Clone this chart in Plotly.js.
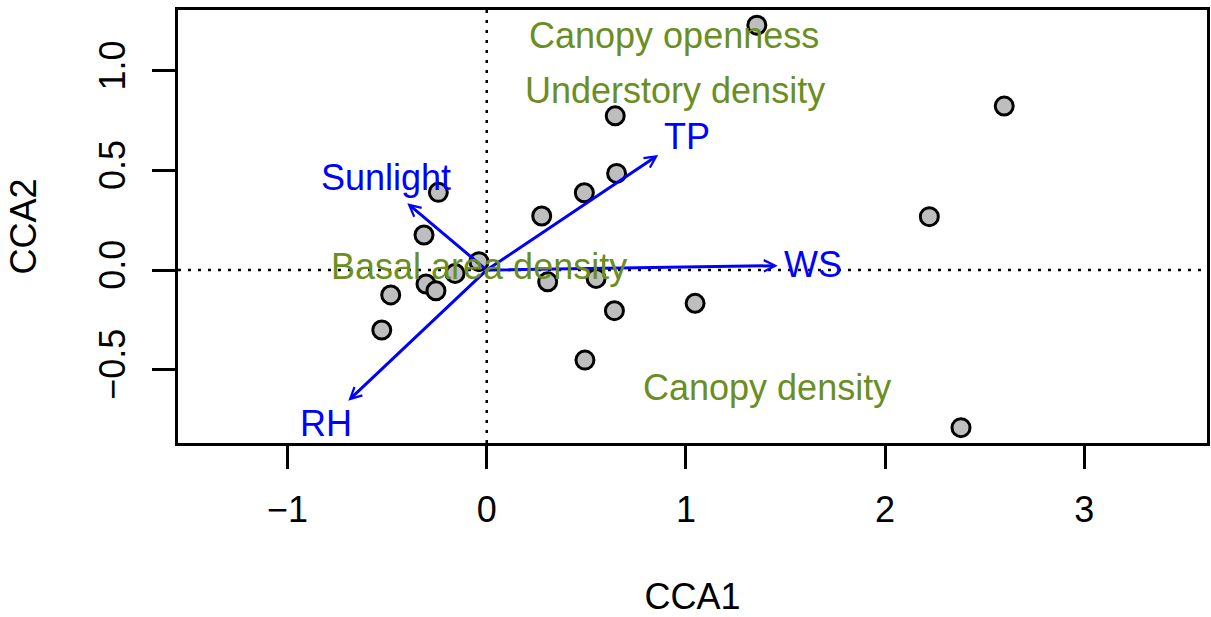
<!DOCTYPE html>
<html>
<head>
<meta charset="utf-8">
<script src="https://cdn.plot.ly/plotly-3.0.1.min.js"></script>
<style>html,body{margin:0;padding:0;background:#fff;}#chart{width:1211px;height:617px;}</style>
</head>
<body>
<div id="chart"></div>
<script>
// Site scores (CCA1, CCA2)
const siteX = [1.356, 2.598, 0.645, 0.652, 0.490, 0.276, -0.243, -0.315, -0.039, -0.159, -0.305, -0.255, -0.482, -0.527, 0.306, 0.549, 1.046, 0.641, 0.493, 2.222, 2.381];
const siteY = [1.229, 0.823, 0.774, 0.485, 0.388, 0.271, 0.390, 0.176, 0.042, -0.017, -0.070, -0.104, -0.125, -0.301, -0.059, -0.042, -0.167, -0.204, -0.452, 0.268, -0.791];

// Environmental vectors (arrow tips) and their label positions
const envNames = ['Sunlight', 'TP', 'WS', 'RH'];
const envX = [-0.399, 0.861, 1.461, -0.695];
const envY = [0.335, 0.577, 0.022, -0.656];
const envLabelX = [-0.506, 1.004, 1.640, -0.807];
const envLabelY = [0.464, 0.670, 0.029, -0.768];

// Factor (centroid) labels
const factorNames = ['Canopy openness', 'Understory density', 'Basal area density', 'Canopy density'];
const factorX = [0.939, 0.943, -0.038, 1.407];
const factorY = [1.175, 0.903, 0.020, -0.590];

// Axis ticks
const xTickVals = [-1, 0, 1, 2, 3];
const xTickText = ['\u22121', '0', '1', '2', '3'];
const yTickVals = [-0.5, 0, 0.5, 1.0];
const yTickText = ['\u22120.5', '0.0', '0.5', '1.0'];

const FONT = 'Liberation Sans, Arial, Helvetica, sans-serif';
const BLUE = '#0000FF';
const GREEN = '#6B8E23';

const traces = [{
  type: 'scatter',
  mode: 'markers',
  x: siteX,
  y: siteY,
  marker: {size: 18, color: '#BEBEBE', line: {color: '#000000', width: 3}},
  hoverinfo: 'x+y',
  showlegend: false
}];

const annotations = [];
envNames.forEach((n, i) => {
  annotations.push({
    xref: 'x', yref: 'y', axref: 'x', ayref: 'y',
    x: envX[i], y: envY[i], ax: 0, ay: 0,
    text: '', showarrow: true,
    arrowhead: 5, arrowsize: 0.75, arrowwidth: 3, arrowcolor: BLUE,
    standoff: 0, startstandoff: 0
  });
});
factorNames.forEach((n, i) => {
  annotations.push({
    xref: 'x', yref: 'y', x: factorX[i], y: factorY[i],
    text: n, showarrow: false, xanchor: 'center', yanchor: 'middle',
    font: {family: FONT, size: 36, color: GREEN}
  });
});
envNames.forEach((n, i) => {
  annotations.push({
    xref: 'x', yref: 'y', x: envLabelX[i], y: envLabelY[i],
    text: n, showarrow: false, xanchor: 'center', yanchor: 'middle',
    font: {family: FONT, size: 36, color: BLUE}
  });
});

const shapes = [
  {type: 'line', xref: 'x', yref: 'paper', x0: 0, x1: 0, y0: 0, y1: 1,
   line: {color: '#000', width: 2.5, dash: '3px,7px'}, layer: 'below'},
  {type: 'line', xref: 'paper', yref: 'y', x0: 0, x1: 1, y0: 0, y1: 0,
   line: {color: '#000', width: 2.5, dash: '3px,7px'}, layer: 'below'}
];

const layout = {
  width: 1211, height: 617,
  margin: {l: 178, r: 4, t: 10, b: 174},
  paper_bgcolor: '#ffffff', plot_bgcolor: '#ffffff',
  font: {family: FONT, size: 36, color: '#000'},
  showlegend: false,
  xaxis: {
    range: [-1.55, 3.616], autorange: false,
    tickvals: xTickVals, ticktext: xTickText,
    ticks: 'outside', ticklen: 23, tickwidth: 3, tickcolor: '#000',
    ticklabelstandoff: 10,
    showline: true, mirror: true, linewidth: 3, linecolor: '#000',
    showgrid: false, zeroline: false,
    tickfont: {family: FONT, size: 36, color: '#000'},
    title: {text: 'CCA1', font: {family: FONT, size: 36, color: '#000'}, standoff: 55}
  },
  yaxis: {
    range: [-0.868, 1.305], autorange: false,
    tickvals: yTickVals, ticktext: yTickText, tickangle: -90,
    ticks: 'outside', ticklen: 23, tickwidth: 3, tickcolor: '#000',
    ticklabelstandoff: 13,
    showline: true, mirror: true, linewidth: 3, linecolor: '#000',
    showgrid: false, zeroline: false,
    tickfont: {family: FONT, size: 36, color: '#000'},
    title: {text: 'CCA2', font: {family: FONT, size: 36, color: '#000'}, standoff: 44}
  },
  annotations: annotations,
  shapes: shapes
};

Plotly.newPlot('chart', traces, layout, {displayModeBar: false, staticPlot: true});
</script>
</body>
</html>
